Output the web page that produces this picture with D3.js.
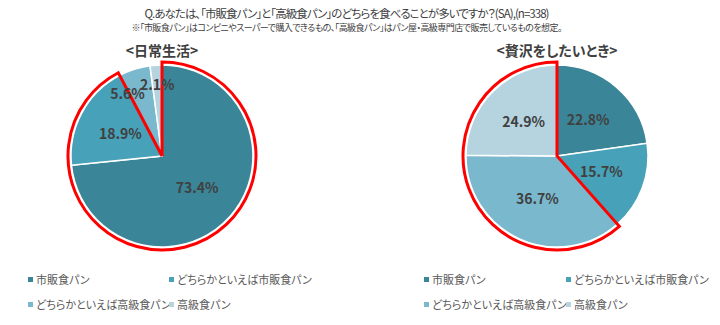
<!DOCTYPE html>
<html lang="ja">
<head>
<meta charset="UTF-8">
<title>市販食パンと高級食パン</title>
<script src="https://d3js.org/d3.v7.min.js"></script>
<style>
  body { margin: 0; background: #fff; }
  text { font-family: "Noto Sans CJK JP", "Noto Sans", sans-serif; font-feature-settings: "palt"; }
</style>
</head>
<body>
<script>
var categories = ["市販食パン", "どちらかといえば市販食パン", "どちらかといえば高級食パン", "高級食パン"];
var dailyValues = [73.4, 18.9, 5.6, 2.1];
var luxuryValues = [22.8, 15.7, 36.7, 24.9];
var pieTitles = ["<日常生活>", "<贅沢をしたいとき>"];
// slices enclosed by the red outline (first..last index)
var dailyHighlight = [0, 1];
var luxuryHighlight = [2, 3];
var title1 = "Q.あなたは、「市販食パン」と「高級食パン」のどちらを食べることが多いですか？(SA),(n=338)";
var title2 = "※「市販食パン」はコンビニやスーパーで購入できるもの、「高級食パン」はパン屋・高級専門店で販売しているものを想定。";

var width = 720, height = 325;
var colors = ["#3b8598", "#47a1b8", "#7ab8ce", "#b5d4e0"];
var color = d3.scaleOrdinal().domain(categories).range(colors);

var svg = d3.select("body").append("svg")
  .attr("width", width)
  .attr("height", height);

svg.append("text")
  .attr("x", 347).attr("y", 18)
  .attr("text-anchor", "middle")
  .attr("textLength", 405)
  .attr("lengthAdjust", "spacing")
  .style("font-size", "11.5px")
  .style("fill", "#404040")
  .text(title1);

svg.append("text")
  .attr("x", 347).attr("y", 31)
  .attr("text-anchor", "middle")
  .attr("textLength", 431)
  .attr("lengthAdjust", "spacing")
  .style("font-size", "9px")
  .style("fill", "#404040")
  .text(title2);

var radius = 91;
var pie = d3.pie().sort(null).value(function(d) { return d; });
var arc = d3.arc().innerRadius(0).outerRadius(radius);

function drawPie(cx, values, highlight, heading) {
  var g = svg.append("g").attr("transform", "translate(" + cx + ",156)");
  var arcs = pie(values);

  svg.append("text")
    .attr("x", cx).attr("y", 56)
    .attr("text-anchor", "middle")
    .style("font-size", "14px")
    .style("font-weight", "bold")
    .style("fill", "#404040")
    .text(heading);

  g.selectAll("path.slice")
    .data(arcs)
    .enter().append("path")
    .attr("class", "slice")
    .attr("d", arc)
    .style("fill", function(d, i) { return color(categories[i]); })
    .style("stroke", "#fff")
    .style("stroke-width", 1.5);

  var outline = d3.arc().innerRadius(0).outerRadius(radius + 3)
    .startAngle(arcs[highlight[0]].startAngle)
    .endAngle(arcs[highlight[1]].endAngle);
  g.append("path")
    .attr("d", outline())
    .style("fill", "none")
    .style("stroke", "#ff0000")
    .style("stroke-width", 3)
    .style("stroke-linejoin", "miter");

  g.selectAll("text.lbl")
    .data(arcs)
    .enter().append("text")
    .attr("class", "lbl")
    .attr("transform", function(d) {
      var small = d.data < 10;
      var rr = small ? radius * 0.78 : radius * 0.52;
      var a = (d.startAngle + d.endAngle) / 2 - (small && d.data > 5 ? 0.2 : 0);
      return "translate(" + (Math.sin(a) * rr) + "," + (-Math.cos(a) * rr) + ")";
    })
    .attr("dy", "0.35em")
    .attr("text-anchor", "middle")
    .style("font-size", "14px")
    .style("font-weight", "bold")
    .style("fill", "#404040")
    .text(function(d) { return d.data.toFixed(1) + "%"; });
}

drawPie(162, dailyValues, dailyHighlight, pieTitles[0]);
drawPie(557, luxuryValues, luxuryHighlight, pieTitles[1]);

function drawLegend(x0, colGap) {
  var lg = svg.append("g");
  var items = lg.selectAll("g.item")
    .data(categories)
    .enter().append("g")
    .attr("class", "item")
    .attr("transform", function(d, i) {
      return "translate(" + (x0 + (i % 2) * colGap) + "," + (280 + Math.floor(i / 2) * 25) + ")";
    });
  items.append("rect")
    .attr("x", 0).attr("y", -3)
    .attr("width", 5).attr("height", 5)
    .style("fill", function(d) { return color(d); });
  items.append("text")
    .attr("x", 8).attr("y", 0)
    .attr("dy", "0.35em")
    .style("font-size", "11px")
    .style("fill", "#595959")
    .text(function(d) { return d; });
}

drawLegend(28, 141);
drawLegend(424, 142);
</script>
</body>
</html>
